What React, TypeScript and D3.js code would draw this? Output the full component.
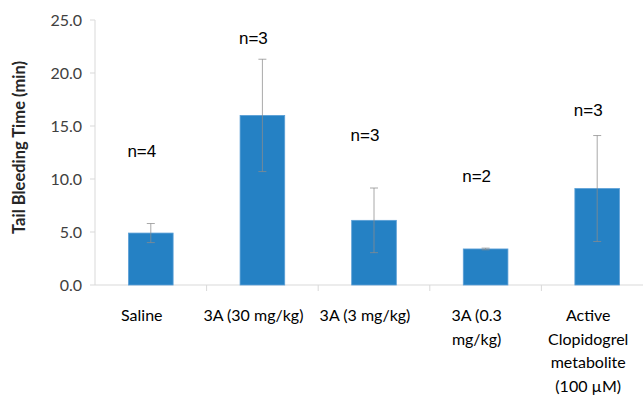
import * as d3 from "d3";
import React from "react";

// categories, each split into the lines of its tick label
const categories = ["Saline", "3A (30 mg/kg)", "3A (3 mg/kg)", "3A (0.3 mg/kg)", "Active Clopidogrel metabolite (100 µM)"];
const categoryLines = [
  ["Saline"],
  ["3A (30 mg/kg)"],
  ["3A (3 mg/kg)"],
  ["3A (0.3", "mg/kg)"],
  ["Active", "Clopidogrel", "metabolite", "(100 µM)"],
];
const means = [4.9, 16.0, 6.1, 3.4, 9.1];
const errors = [0.9, 5.3, 3.05, 0.08, 5.0];
const nLabels = ["n=4", "n=3", "n=3", "n=2", "n=3"];
const nLabelAt = [12.1, 22.7, 13.6, 9.75, 15.9];
const yTicks = [0, 5, 10, 15, 20, 25];

const W = 643;
const H = 396;
const margin = { top: 20, right: -10, bottom: 111, left: 95 };

const App = () => {
  const x = d3
    .scaleBand<string>()
    .domain(categories)
    .range([margin.left, W - margin.right])
    .paddingInner(0.6)
    .paddingOuter(0.3);
  const y = d3.scaleLinear().domain([0, 25]).range([H - margin.bottom, margin.top]);
  const step = x.step();
  const bw = x.bandwidth();
  const y0 = y(0);
  const axisColor = "#d9d9d9";
  const font = "Lato, 'Open Sans', sans-serif";

  return (
    <svg width={W} height={H} style={{ position: "absolute", left: 0, top: 0, background: "#fff" }}>
      {/* y axis */}
      <line x1={margin.left} x2={margin.left} y1={y(25)} y2={y0} stroke={axisColor} />
      {yTicks.map((t) => (
        <g key={t}>
          <line x1={margin.left - 5} x2={margin.left} y1={y(t)} y2={y(t)} stroke={axisColor} />
          <text x={margin.left - 13} y={y(t)} dy="0.35em" textAnchor="end" fontFamily={font} fontSize={16} fill="#404040">
            {d3.format(".1f")(t)}
          </text>
        </g>
      ))}
      <text
        transform={`translate(25,${(y(25) + y0) / 2 - 5}) rotate(-90)`}
        textAnchor="middle"
        fontFamily={font}
        fontWeight="bold"
        fontSize={16.5}
        fill="#262626"
      >
        Tail Bleeding Time (min)
      </text>

      {/* x axis */}
      <line x1={margin.left} x2={W} y1={y0} y2={y0} stroke={axisColor} />
      {categories.map((c) => {
        const left = (x(c) as number) - (step - bw) / 2;
        return <line key={c} x1={left + step} x2={left + step} y1={y0} y2={y0 + 6} stroke={axisColor} />;
      })}

      {/* bars */}
      {categories.map((c, i) => {
        const cx = (x(c) as number) + bw / 2;
        return (
          <g key={c}>
            <rect
              x={x(c)}
              y={y(means[i])}
              width={bw}
              height={y0 - y(means[i])}
              fill="#2581c4"
              stroke="#5b9fd6"
              strokeWidth={0.8}
            />
            <g stroke="#8c8c8c" strokeOpacity={0.75} strokeWidth={1}>
              <line x1={cx} x2={cx} y1={y(means[i] + errors[i])} y2={y(means[i] - errors[i])} />
              <line x1={cx - 4} x2={cx + 4} y1={y(means[i] + errors[i])} y2={y(means[i] + errors[i])} />
              <line x1={cx - 4} x2={cx + 4} y1={y(means[i] - errors[i])} y2={y(means[i] - errors[i])} />
            </g>
            <text x={cx - 9} y={y(nLabelAt[i])} textAnchor="middle" fontFamily="'Liberation Sans', Arial, sans-serif" fontSize={17} fill="#000">
              {nLabels[i]}
            </text>
            <text textAnchor="middle" fontFamily={font} fontSize={16} fill="#000">
              {categoryLines[i].map((line, k) => (
                <tspan key={k} x={cx - 9} y={y0 + 36 + k * 23.6}>
                  {line}
                </tspan>
              ))}
            </text>
          </g>
        );
      })}
    </svg>
  );
};

export default App;
